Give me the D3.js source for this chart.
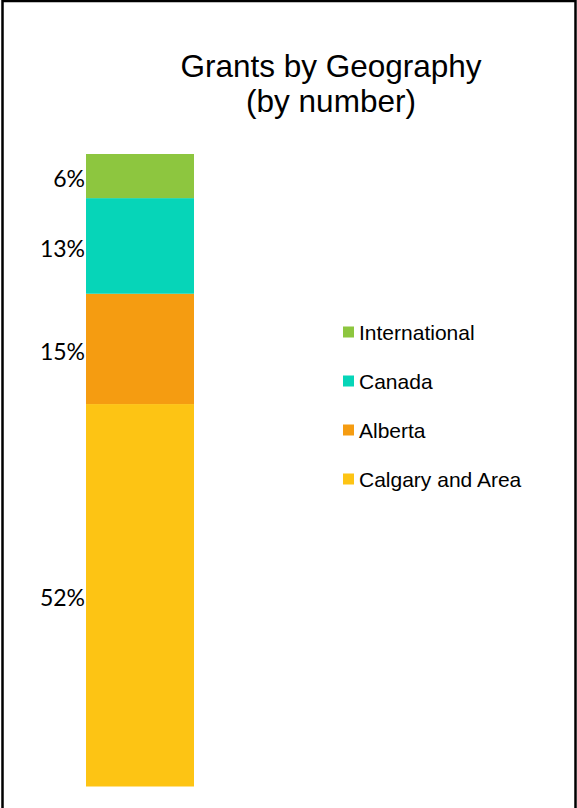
<!DOCTYPE html>
<html>
<head>
<meta charset="utf-8">
<script src="https://cdn.jsdelivr.net/npm/d3@7/dist/d3.min.js"></script>
<style>
  html, body { margin: 0; padding: 0; background: #fff; }
  svg { display: block; }
</style>
</head>
<body>
<svg id="chart" width="577" height="808"></svg>
<script>
// Share of grants by geography, stacked bottom to top
const categories = ["Calgary and Area", "Alberta", "Canada", "International"];
const values = [52, 15, 13, 6];
const colors = ["#FDC414", "#F59C11", "#06D5B8", "#8DC63F"];
const labels = ["52%", "15%", "13%", "6%"];
const legendOrder = ["International", "Canada", "Alberta", "Calgary and Area"];

const svg = d3.select("#chart");
const W = 577, H = 808;

// Frame around the slide
svg.append("rect")
  .attr("x", 2.5).attr("y", 1)
  .attr("width", W - 4).attr("height", H + 10)
  .attr("fill", "#fff")
  .attr("stroke", "#000").attr("stroke-width", 2.5);

// Title
const title = svg.append("text")
  .attr("text-anchor", "middle")
  .attr("font-family", "Liberation Sans, Arial, sans-serif")
  .attr("font-size", 31.5)
  .attr("fill", "#000");
title.append("tspan").attr("x", 331).attr("y", 77).text("Grants by Geography");
title.append("tspan").attr("x", 331).attr("y", 112).text("(by number)");

// Stacked data
const rows = [Object.fromEntries(categories.map((c, i) => [c, values[i]]))];
const stack = d3.stack().keys(categories)(rows);
const total = d3.sum(values);

const y = d3.scaleLinear().domain([0, total]).range([786.5, 154]);
const x = d3.scaleBand().domain(["Grants"]).range([86, 194]).padding(0);

svg.append("g").selectAll("rect")
  .data(stack)
  .join("rect")
  .attr("x", x("Grants"))
  .attr("width", x.bandwidth())
  .attr("y", d => y(d[0][1]))
  .attr("height", d => y(d[0][0]) - y(d[0][1]))
  .attr("fill", (d, i) => colors[i]);

// Percentage labels to the left of each segment
svg.append("g").selectAll("text")
  .data(stack)
  .join("text")
  .attr("x", 85)
  .attr("y", d => (y(d[0][0]) + y(d[0][1])) / 2 + 3)
  .attr("dy", "0.35em")
  .attr("text-anchor", "end")
  .attr("font-family", "Lato, 'Open Sans', sans-serif")
  .attr("font-size", 23)
  .attr("fill", "#000")
  .text((d, i) => labels[i]);

// Legend
const legendY = d3.scalePoint().domain(legendOrder).range([332, 479]);
const lg = svg.append("g").selectAll("g")
  .data(legendOrder)
  .join("g")
  .attr("transform", d => `translate(343,${legendY(d)})`);
lg.append("rect")
  .attr("x", 0).attr("y", -5.5)
  .attr("width", 11).attr("height", 11)
  .attr("fill", d => colors[categories.indexOf(d)]);
lg.append("text")
  .attr("x", 16)
  .attr("dy", "0.36em")
  .attr("font-family", "Liberation Sans, Arial, sans-serif")
  .attr("font-size", 21)
  .attr("fill", "#000")
  .text(d => d);
</script>
</body>
</html>
